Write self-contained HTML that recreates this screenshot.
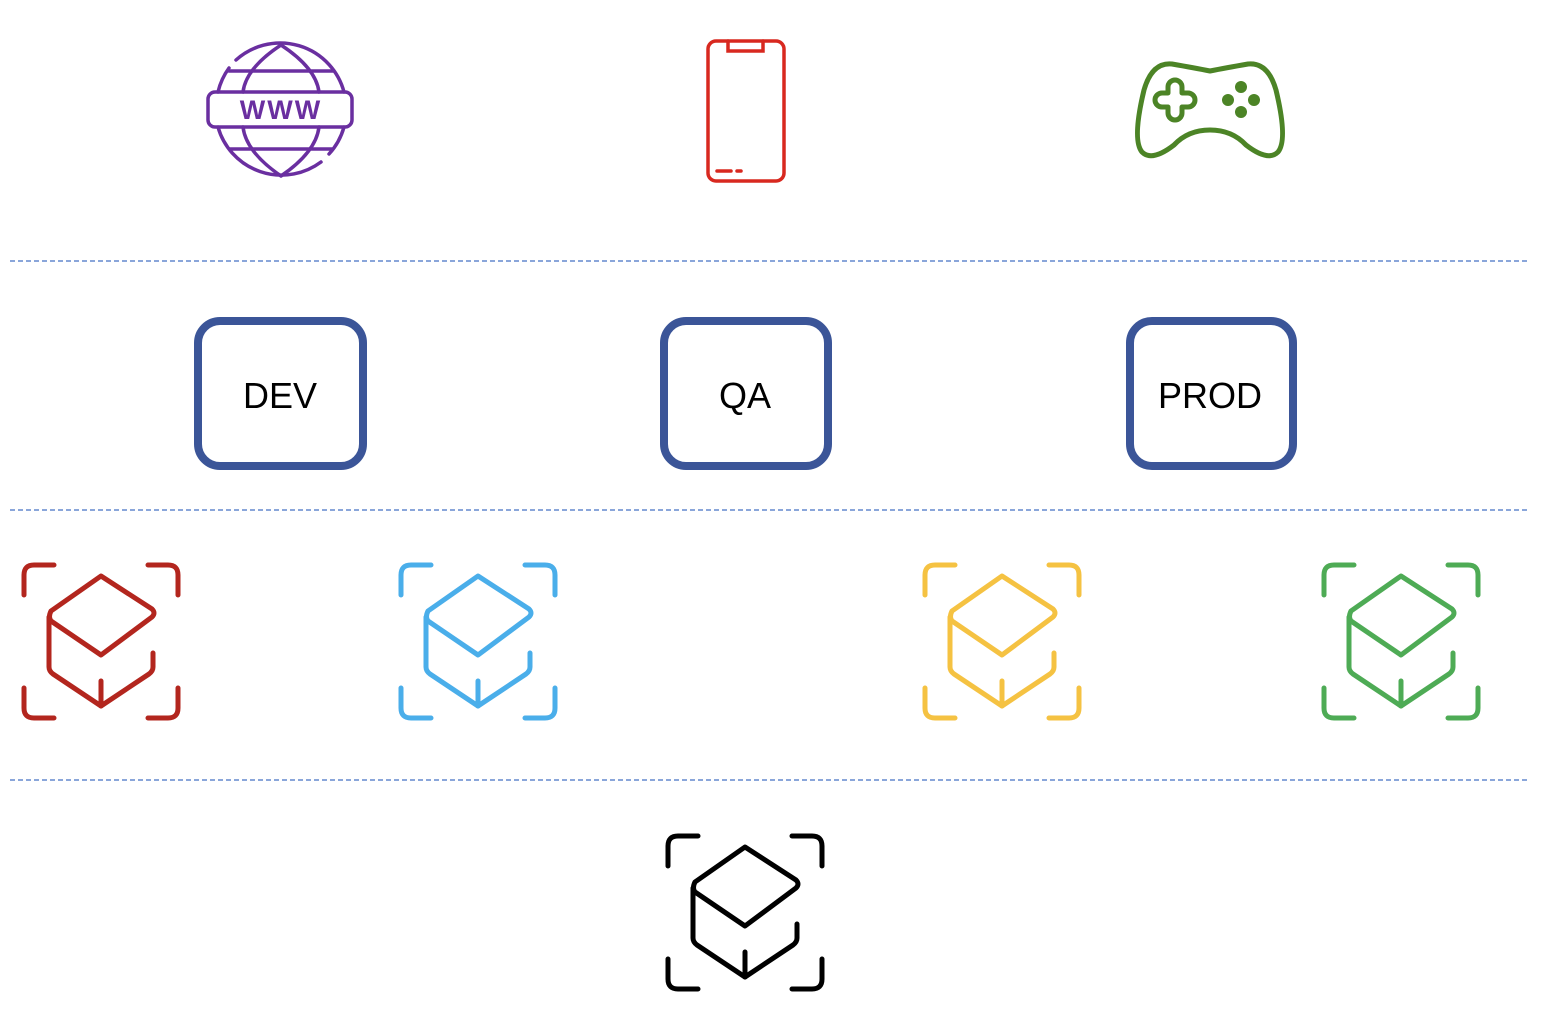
<!DOCTYPE html>
<html><head><meta charset="utf-8"><style>
html,body{margin:0;padding:0;background:#fff;}
svg{display:block;}
text{font-family:"Liberation Sans",sans-serif;}
</style></head><body>
<svg width="1543" height="1019" viewBox="0 0 1543 1019" xmlns="http://www.w3.org/2000/svg">
<defs>
<g id="cube" fill="none" stroke-width="5" stroke-linecap="round" stroke-linejoin="round">
<path d="M2,32 V12 Q2,2 12,2 H32 M126,2 H146 Q156,2 156,12 V32 M2,125 V145 Q2,155 12,155 H32 M126,155 H146 Q156,155 156,145 V125"/>
<path d="M79,13 L130,46 Q134,50 130,54 L79,92 L29,58 Q26,54 29,48 Z"/>
<path d="M27,54 V104 Q27,108 31,111 L79,143 L127,111 Q131,108 131,104 V90"/>
<path d="M79,118 V143"/>
</g>
</defs>
<g stroke="#4472c4" stroke-width="1.3" stroke-dasharray="5,3">
<line x1="10" y1="261" x2="1530" y2="261"/>
<line x1="10" y1="510" x2="1530" y2="510"/>
<line x1="10" y1="780" x2="1530" y2="780"/>
</g>
<!-- globe -->
<g fill="none" stroke="#6a2fa0" stroke-width="3.5" stroke-linecap="round">
<path d="M218,92 A66,66 0 0 1 229,68 M236,60 A66,66 0 0 1 344,92"/>
<path d="M218,127 A66,66 0 0 0 321,162 M329,154 A66,66 0 0 0 344,127"/>
<path d="M281,45 Q246,68 243,92 M281,45 Q316,68 319,92 M243,127 Q246,152 281,176 M319,127 Q316,152 281,176"/>
<line x1="229" y1="71" x2="333" y2="71"/>
<line x1="230" y1="149" x2="332" y2="149"/>
<rect x="208" y="92" width="144" height="35" rx="7"/>
</g>
<text x="281" y="119" text-anchor="middle" font-size="27" font-weight="bold" fill="#6a2fa0" letter-spacing="2">WWW</text>
<!-- phone -->
<g fill="none" stroke="#d8281f" stroke-width="3.5" stroke-linecap="round">
<rect x="708" y="41" width="76" height="140" rx="8"/>
<path d="M728,41 V51 H763 V41"/>
<line x1="717" y1="171" x2="731" y2="171"/>
<line x1="737" y1="171" x2="741" y2="171"/>
</g>
<!-- controller -->
<g fill="none" stroke="#4c8426" stroke-width="5" stroke-linejoin="round">
<path d="M1172,64 Q1195,68 1210,71 Q1225,68 1248,64 Q1268,62 1276,90 Q1288,140 1278,152 Q1268,162 1246,145 Q1232,130 1210,130 Q1188,130 1174,145 Q1152,162 1142,152 Q1132,140 1144,90 Q1152,62 1172,64 Z"/>
<path d="M1168,87 a7,7 0 0 1 14,0 v6 h6 a7,7 0 0 1 0,14 h-6 v6 a7,7 0 0 1 -14,0 v-6 h-6 a7,7 0 0 1 0,-14 h6 z"/>
</g>
<g fill="#4c8426">
<circle cx="1241" cy="87" r="6"/><circle cx="1228" cy="100" r="6"/><circle cx="1254" cy="100" r="6"/><circle cx="1241" cy="112" r="6"/>
</g>
<g fill="none" stroke="#3b5598" stroke-width="8">
<rect x="198" y="321" width="165" height="145" rx="22"/>
<rect x="664" y="321" width="164" height="145" rx="22"/>
<rect x="1130" y="321" width="163" height="145" rx="22"/>
</g>
<g font-size="36" text-anchor="middle" fill="#000">
<text x="280" y="408">DEV</text>
<text x="745" y="408">QA</text>
<text x="1210" y="408">PROD</text>
</g>
<use href="#cube" x="22" y="563" stroke="#b3261e"/>
<use href="#cube" x="399" y="563" stroke="#4aaeea"/>
<use href="#cube" x="923" y="563" stroke="#f5c242"/>
<use href="#cube" x="1322" y="563" stroke="#4eab55"/>
<g transform="translate(666,834)" stroke="#000"><use href="#cube" style="stroke-width:6"/></g>
</svg>
</body></html>
